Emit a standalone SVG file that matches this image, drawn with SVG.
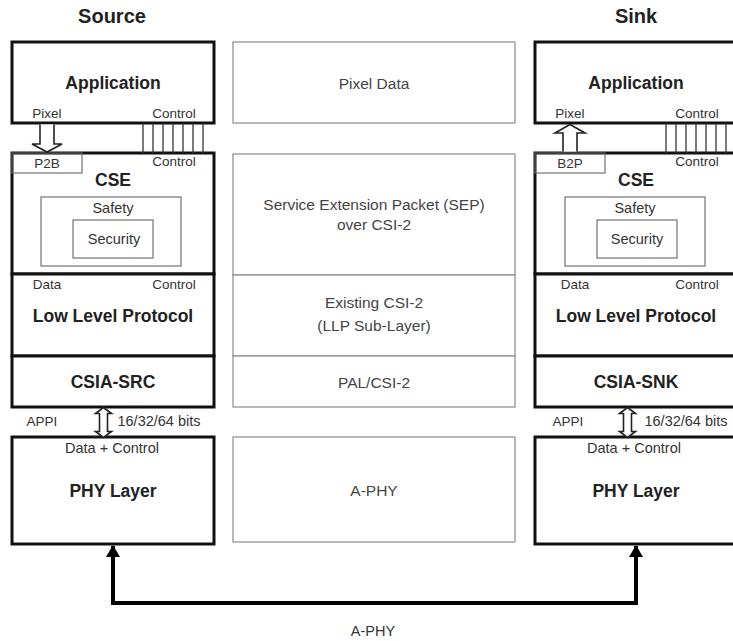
<svg xmlns="http://www.w3.org/2000/svg" width="733" height="641" viewBox="0 0 733 641">
  <style>
    .blk { fill: #fff; stroke: #111; stroke-width: 3; }
    .mid { fill: #fff; stroke: #8a8a8a; stroke-width: 1.2; }
    .inner { fill: none; stroke: #666; stroke-width: 1.1; }
    .bus { fill: none; stroke: #333; stroke-width: 1.3; }
    .hollow { fill: #fff; stroke: #222; stroke-width: 1.6; stroke-linejoin: miter; }
    text { font-family: "Liberation Sans", Arial, sans-serif; text-anchor: middle; }
    .head { font-size: 20px; font-weight: bold; fill: #222; }
    .title { font-size: 17.5px; font-weight: bold; fill: #222; }
    .lbl { font-size: 13.5px; fill: #333; }
    .sub { font-size: 14.5px; fill: #333; }
    .mtxt { font-size: 15.5px; fill: #444; }
    .conn { fill: none; stroke: #000; stroke-width: 4; stroke-linejoin: miter; }
  </style>
  <defs>
    <marker id="tip" viewBox="0 0 12 14" refX="11" refY="7" markerWidth="12" markerHeight="14" markerUnits="userSpaceOnUse" orient="auto-start-reverse">
      <path d="M0,0 L12,7 L0,14 Z" fill="#000"/>
    </marker>
    <!-- seven parallel control lines -->
    <g id="ctlbus">
      <path class="bus" d="M0,0 V30 M10,0 V30 M20,0 V30 M30,0 V30 M40,0 V30 M50,0 V30 M60,0 V30"/>
    </g>
    <!-- hollow double-headed APPI arrow, centred on x=0 from y=0 to y=30 -->
    <path id="appi" class="hollow" d="M0,0 L8,6 L4,6 L4,24 L8,24 L0,30 L-8,24 L-4,24 L-4,6 L-8,6 Z"/>
  </defs>

  <text class="head" x="112" y="23">Source</text>
  <text class="head" x="636" y="23">Sink</text>

  <!-- Source stack -->
  <g id="src-app">
    <rect class="blk" x="12" y="42" width="202" height="81"/>
    <text class="title" x="113" y="89">Application</text>
    <text class="lbl" x="47" y="118">Pixel</text>
    <text class="lbl" x="174" y="118">Control</text>
  </g>
  <g id="src-cse">
    <rect class="blk" x="12" y="153" width="202" height="121"/>
    <rect class="inner" x="12" y="153" width="70" height="20"/>
    <text class="lbl" x="47" y="168">P2B</text>
    <text class="lbl" x="174" y="166">Control</text>
    <text class="title" x="113" y="186">CSE</text>
    <rect class="inner" x="41" y="197" width="140" height="69"/>
    <text class="sub" x="113" y="213">Safety</text>
    <rect class="inner" x="73" y="220" width="80" height="38"/>
    <text class="sub" x="114" y="244">Security</text>
  </g>
  <g id="src-llp">
    <rect class="blk" x="12" y="274" width="202" height="82"/>
    <text class="lbl" x="47" y="289">Data</text>
    <text class="lbl" x="174" y="289">Control</text>
    <text class="title" x="113" y="322">Low Level Protocol</text>
  </g>
  <g id="src-csia">
    <rect class="blk" x="12" y="356" width="202" height="51"/>
    <text class="title" x="113" y="388">CSIA-SRC</text>
  </g>
  <g id="src-phy">
    <rect class="blk" x="12" y="437" width="202" height="107"/>
    <text class="sub" x="112" y="453">Data + Control</text>
    <text class="title" x="113" y="497">PHY Layer</text>
  </g>

  <!-- Layer mapping column -->
  <g id="pixel-data">
    <rect class="mid" x="233" y="42" width="282" height="81"/>
    <text class="mtxt" x="374" y="89">Pixel Data</text>
  </g>
  <g id="sep">
    <rect class="mid" x="233" y="154" width="282" height="121"/>
    <text class="mtxt" x="374" y="210">Service Extension Packet (SEP)</text>
    <text class="mtxt" x="374" y="230">over CSI-2</text>
  </g>
  <g id="csi2">
    <rect class="mid" x="233" y="275" width="282" height="81"/>
    <text class="mtxt" x="374" y="308">Existing CSI-2</text>
    <text class="mtxt" x="374" y="331">(LLP Sub-Layer)</text>
  </g>
  <g id="pal">
    <rect class="mid" x="233" y="356" width="282" height="51"/>
    <text class="mtxt" x="374" y="388">PAL/CSI-2</text>
  </g>
  <g id="aphy-layer">
    <rect class="mid" x="233" y="437" width="282" height="105"/>
    <text class="mtxt" x="374" y="496">A-PHY</text>
  </g>

  <!-- Sink stack -->
  <g id="snk-app">
    <rect class="blk" x="535" y="42" width="202" height="81"/>
    <text class="title" x="636" y="89">Application</text>
    <text class="lbl" x="570" y="118">Pixel</text>
    <text class="lbl" x="697" y="118">Control</text>
  </g>
  <g id="snk-cse">
    <rect class="blk" x="535" y="153" width="202" height="121"/>
    <rect class="inner" x="535" y="153" width="70" height="20"/>
    <text class="lbl" x="570" y="168">B2P</text>
    <text class="lbl" x="697" y="166">Control</text>
    <text class="title" x="636" y="186">CSE</text>
    <rect class="inner" x="565" y="197" width="140" height="69"/>
    <text class="sub" x="635" y="213">Safety</text>
    <rect class="inner" x="597" y="220" width="80" height="38"/>
    <text class="sub" x="637" y="244">Security</text>
  </g>
  <g id="snk-llp">
    <rect class="blk" x="535" y="274" width="202" height="82"/>
    <text class="lbl" x="575" y="289">Data</text>
    <text class="lbl" x="697" y="289">Control</text>
    <text class="title" x="636" y="322">Low Level Protocol</text>
  </g>
  <g id="snk-csia">
    <rect class="blk" x="535" y="356" width="202" height="51"/>
    <text class="title" x="636" y="388">CSIA-SNK</text>
  </g>
  <g id="snk-phy">
    <rect class="blk" x="535" y="437" width="202" height="107"/>
    <text class="sub" x="634" y="453">Data + Control</text>
    <text class="title" x="636" y="497">PHY Layer</text>
  </g>

  <!-- Connectors -->
  <g id="connectors">
    <!-- source pixel path: application down to CSE -->
    <path class="hollow" d="M40,124.5 L40,144 L32,144 L47,152 L62,144 L54,144 L54,124.5"/>
    <!-- sink pixel path: CSE up to application -->
    <path class="hollow" d="M563,151.5 L563,133 L555,133 L570,124.5 L585,133 L577,133 L577,151.5"/>
    <use href="#ctlbus" x="143" y="123"/>
    <use href="#ctlbus" x="666" y="123"/>

    <!-- APPI links -->
    <use href="#appi" x="103.5" y="407.5"/>
    <text class="lbl" x="42" y="426">APPI</text>
    <text class="sub" x="159" y="426">16/32/64 bits</text>
    <use href="#appi" x="627.5" y="407.5"/>
    <text class="lbl" x="568" y="426">APPI</text>
    <text class="sub" x="686" y="426">16/32/64 bits</text>

    <!-- A-PHY link between PHY layers -->
    <path class="conn" d="M113,546 V603 H636 V546" marker-start="url(#tip)" marker-end="url(#tip)"/>
    <text class="sub" x="373" y="636">A-PHY</text>
  </g>
</svg>
